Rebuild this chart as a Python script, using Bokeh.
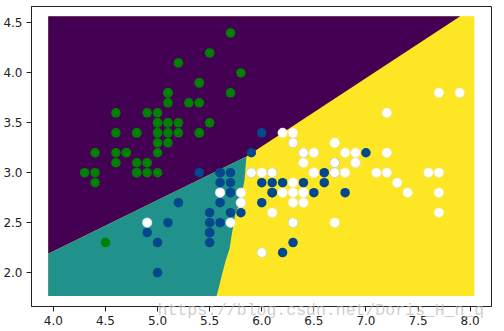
from bokeh.plotting import figure
from bokeh.models import Range1d, FixedTicker, PrintfTickFormatter
from bokeh.embed import file_html
from bokeh.resources import INLINE

# ---- iris samples: sepal length (x) / sepal width (y) ----
setosa_x = [5.1, 4.9, 4.7, 4.6, 5.0, 5.4, 4.6, 5.0, 4.4, 4.9, 5.4, 4.8, 4.8, 4.3, 5.8, 5.7, 5.4, 5.1, 5.7, 5.1,
            5.4, 5.1, 4.6, 5.1, 4.8, 5.0, 5.0, 5.2, 5.2, 4.7, 4.8, 5.4, 5.2, 5.5, 4.9, 5.0, 5.5, 4.9, 4.4, 5.1,
            5.0, 4.5, 4.4, 5.0, 5.1, 4.8, 5.1, 4.6, 5.3, 5.0]
setosa_y = [3.5, 3.0, 3.2, 3.1, 3.6, 3.9, 3.4, 3.4, 2.9, 3.1, 3.7, 3.4, 3.0, 3.0, 4.0, 4.4, 3.9, 3.5, 3.8, 3.8,
            3.4, 3.7, 3.6, 3.3, 3.4, 3.0, 3.4, 3.5, 3.4, 3.2, 3.1, 3.4, 4.1, 4.2, 3.1, 3.2, 3.5, 3.6, 3.0, 3.4,
            3.5, 2.3, 3.2, 3.5, 3.8, 3.0, 3.8, 3.2, 3.7, 3.3]
versicolor_x = [7.0, 6.4, 6.9, 5.5, 6.5, 5.7, 6.3, 4.9, 6.6, 5.2, 5.0, 5.9, 6.0, 6.1, 5.6, 6.7, 5.6, 5.8, 6.2, 5.6,
                5.9, 6.1, 6.3, 6.1, 6.4, 6.6, 6.8, 6.7, 6.0, 5.7, 5.5, 5.5, 5.8, 6.0, 5.4, 6.0, 6.7, 6.3, 5.6, 5.5,
                5.5, 6.1, 5.8, 5.0, 5.6, 5.7, 5.7, 6.2, 5.1, 5.7]
versicolor_y = [3.2, 3.2, 3.1, 2.3, 2.8, 2.8, 3.3, 2.4, 2.9, 2.7, 2.0, 3.0, 2.2, 2.9, 2.9, 3.1, 3.0, 2.7, 2.2, 2.5,
                3.2, 2.8, 2.5, 2.8, 2.9, 3.0, 2.8, 3.0, 2.9, 2.6, 2.4, 2.4, 2.7, 2.7, 3.0, 3.4, 3.1, 2.3, 3.0, 2.5,
                2.6, 3.0, 2.6, 2.3, 2.7, 3.0, 2.9, 2.9, 2.5, 2.8]
virginica_x = [6.3, 5.8, 7.1, 6.3, 6.5, 7.6, 4.9, 7.3, 6.7, 7.2, 6.5, 6.4, 6.8, 5.7, 5.8, 6.4, 6.5, 7.7, 7.7, 6.0,
               6.9, 5.6, 7.7, 6.3, 6.7, 7.2, 6.2, 6.1, 6.4, 7.2, 7.4, 7.9, 6.4, 6.3, 6.1, 7.7, 6.3, 6.4, 6.0, 6.9,
               6.7, 6.9, 5.8, 6.8, 6.7, 6.7, 6.3, 6.5, 6.2, 5.9]
virginica_y = [3.3, 2.7, 3.0, 2.9, 3.0, 3.0, 2.5, 2.9, 2.5, 3.6, 3.2, 2.7, 3.0, 2.5, 2.8, 3.2, 3.0, 3.8, 2.6, 2.2,
               3.2, 2.8, 2.8, 2.7, 3.3, 3.2, 2.8, 3.0, 2.8, 3.0, 2.8, 3.8, 2.8, 2.8, 2.6, 3.0, 3.4, 3.1, 3.0, 3.1,
               3.1, 3.1, 2.7, 3.2, 3.3, 3.0, 2.5, 3.0, 3.4, 3.0]

# ---- decision regions ----
grid_x = [3.95, 8.04]          # outer extent of the evaluated grid
grid_y = [1.766, 4.567]
purple_teal_x = [3.95, 5.853]
purple_teal_y = [2.188, 3.162]
purple_yellow_x = [5.853, 7.905]
purple_yellow_y = [3.162, 4.567]
teal_yellow_x = [5.853, 5.834, 5.796, 5.748, 5.710, 5.691, 5.653, 5.623, 5.585, 5.566]
teal_yellow_y = [3.162, 2.921, 2.720, 2.590, 2.369, 2.238, 2.118, 1.997, 1.837, 1.766]

x_ticks = [4.0, 4.5, 5.0, 5.5, 6.0, 6.5, 7.0, 7.5, 8.0]
y_ticks = [2.0, 2.5, 3.0, 3.5, 4.0, 4.5]
watermark = "https://blog.csdn.net/Doris_H_n_q"

PURPLE, TEAL, YELLOW = "#440154", "#21918c", "#fde725"

p = figure(width=504, height=331, output_backend="svg", toolbar_location=None,
           x_range=Range1d(3.79, 8.205), y_range=Range1d(1.66, 4.665),
           min_border_left=31, min_border_right=13, min_border_top=6, min_border_bottom=25)
p.background_fill_color = "white"
p.border_fill_color = "white"
p.grid.visible = False
p.outline_line_color = "#222222"
p.outline_line_width = 1

# yellow everywhere, then purple and teal regions on top
p.quad(left=grid_x[0], right=grid_x[1], bottom=grid_y[0], top=grid_y[1],
       fill_color=YELLOW, line_color=None)
px = [grid_x[0], grid_x[0]] + purple_yellow_x + [grid_x[0]]
py = [grid_y[1], purple_teal_y[0]] + purple_yellow_y + [grid_y[1]]
p.patch(px, py, fill_color=PURPLE, line_color=None)
tx = [grid_x[0], purple_teal_x[0]] + teal_yellow_x
ty = [grid_y[0], purple_teal_y[0]] + teal_yellow_y
p.patch(tx, ty, fill_color=TEAL, line_color=None)

p.scatter(setosa_x, setosa_y, size=9.5, fill_color="#008000", line_color=None)
p.scatter(versicolor_x, versicolor_y, size=9.5, fill_color="#03478c", line_color=None)
p.scatter(virginica_x, virginica_y, size=9.5, fill_color="white", line_color="#e8e8e8", line_width=0.5)

for ax, ticks in ((p.xaxis, x_ticks), (p.yaxis, y_ticks)):
    ax.ticker = FixedTicker(ticks=ticks)
    ax.formatter = PrintfTickFormatter(format="%.1f")
    ax.major_tick_out = 5
    ax.major_tick_in = 0
    ax.minor_tick_line_color = None
    ax.major_tick_line_color = "#222222"
    ax.axis_line_color = "#222222"
    ax.major_label_text_font = "DejaVu Sans"
    ax.major_label_text_font_size = "12px"
    ax.major_label_text_color = "#222222"
    ax.major_label_standoff = 4

# watermark: drawn as the x-axis label, pulled up over the tick labels
xa = p.xaxis[0]
xa.axis_label = "\u00a0" * 12 + watermark
xa.axis_label_text_font = "Liberation Mono"
xa.axis_label_text_font_size = "16.5px"
xa.axis_label_text_font_style = "normal"
xa.axis_label_text_color = "#b8b8b8"
xa.axis_label_text_alpha = 0.7
xa.axis_label_standoff = -27

open("out.html", "w").write(file_html(p, INLINE))
